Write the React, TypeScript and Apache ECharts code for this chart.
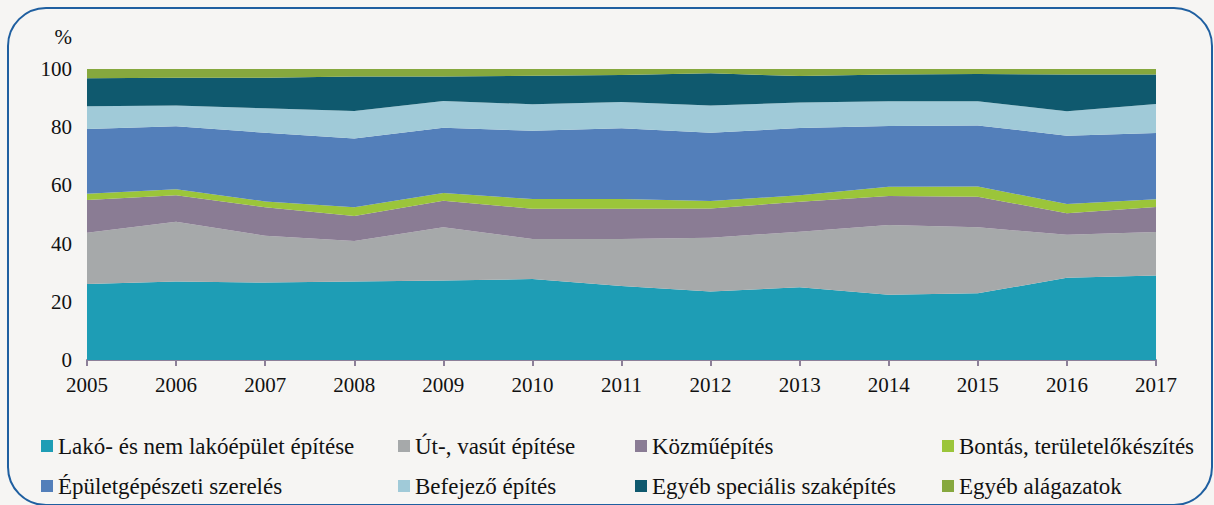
import React, { useEffect, useRef } from "react";
import * as echarts from "echarts";

const years = ["2005","2006","2007","2008","2009","2010","2011","2012","2013","2014","2015","2016","2017"];
const seriesNames = [
  "Lakó- és nem lakóépület építése",
  "Út-, vasút építése",
  "Közműépítés",
  "Bontás, területelőkészítés",
  "Épületgépészeti szerelés",
  "Befejező építés",
  "Egyéb speciális szaképítés",
  "Egyéb alágazatok",
];
const lako = [26.1, 27.0, 26.6, 27.0, 27.3, 27.8, 25.4, 23.5, 25.0, 22.4, 22.9, 28.3, 29.0];
const ut = [17.6, 20.5, 16.1, 13.9, 18.3, 13.8, 16.2, 18.5, 19.1, 24.0, 22.7, 14.7, 15.0];
const kozmu = [11.3, 9.1, 9.8, 8.6, 9.1, 10.4, 10.4, 10.1, 10.3, 10.0, 10.5, 7.4, 8.6];
const bontas = [2.1, 2.1, 2.0, 3.0, 2.7, 3.3, 3.3, 2.5, 2.2, 3.1, 3.5, 3.2, 2.6];
const epuletgep = [22.3, 21.6, 23.6, 23.6, 22.4, 23.5, 24.3, 23.5, 23.1, 20.9, 21.0, 23.5, 22.8];
const befejezo = [7.8, 7.2, 8.4, 9.5, 9.2, 9.1, 9.1, 9.4, 8.8, 8.5, 8.3, 8.4, 10.0];
const egyebSpec = [9.6, 9.5, 10.5, 11.8, 8.4, 9.8, 9.2, 11.0, 9.1, 9.2, 9.4, 12.6, 10.1];
const egyebAlag = [3.2, 3.0, 3.0, 2.6, 2.6, 2.3, 2.1, 1.5, 2.4, 1.9, 1.7, 1.9, 1.9];
const yTicks = [0, 20, 40, 60, 80, 100];

const allData = [lako, ut, kozmu, bontas, epuletgep, befejezo, egyebSpec, egyebAlag];
const colors = ["#1E9DB5", "#A6A9AA", "#8A7C94", "#9BC53A", "#537FBA", "#A0CAD8", "#0F596E", "#86A83E"];

const FONT = "'Liberation Serif', 'DejaVu Serif', serif";

export default function App() {
  const ref = useRef<HTMLDivElement>(null);
  useEffect(() => {
    if (!ref.current) return;
    const chart = echarts.init(ref.current, undefined, { renderer: "svg" });
    const legendLefts = [41, 398, 635, 942];
    const legendTops = [434, 474];
    chart.setOption({
      animation: false,
      backgroundColor: "#F6F5F3",
      grid: { left: 87, right: 58, top: 69, bottom: 145 },
      xAxis: {
        type: "category",
        data: years,
        boundaryGap: false,
        axisLine: { show: true, lineStyle: { color: "#8D8099", width: 2 } },
        axisTick: { show: true, length: 6, lineStyle: { color: "#8D8099", width: 2 }, alignWithLabel: true },
        axisLabel: { color: "#111", fontFamily: FONT, fontSize: 21, margin: 14 },
        splitLine: { show: false },
      },
      yAxis: {
        type: "value",
        min: yTicks[0],
        max: yTicks[yTicks.length - 1],
        interval: 20,
        name: "%",
        nameLocation: "end",
        nameGap: 22,
        nameTextStyle: { color: "#111", fontFamily: FONT, fontSize: 21, align: "right", padding: [0, 15, 0, 0] },
        axisLine: { show: false },
        axisTick: { show: false },
        splitLine: { show: false },
        axisLabel: { color: "#111", fontFamily: FONT, fontSize: 21, margin: 15 },
      },
      legend: seriesNames.map((name, i) => ({
        orient: "horizontal",
        left: legendLefts[i % 4],
        top: legendTops[Math.floor(i / 4)],
        padding: 0,
        itemWidth: 12,
        itemHeight: 12,
        icon: "rect",
        selectedMode: false,
        textStyle: { color: "#111", fontFamily: FONT, fontSize: 23, lineHeight: 24 },
        data: [name],
      })),
      graphic: [
        {
          type: "rect",
          shape: { x: 8, y: 8, width: 1204, height: 497, r: 38 },
          style: { fill: "none", stroke: "#1F5FA0", lineWidth: 2 },
          silent: true,
          z: 100,
        },
      ],
      series: allData.map((d, i) => ({
        name: seriesNames[i],
        type: "line",
        stack: "total",
        data: d,
        symbol: "none",
        lineStyle: { width: 0 },
        areaStyle: { color: colors[i], opacity: 1 },
        itemStyle: { color: colors[i] },
      })),
    });
    return () => chart.dispose();
  }, []);
  return (
    <div style={{ position: "absolute", left: 0, top: 0, width: 1214, height: 505, background: "#F6F5F3" }}>
      <div ref={ref} style={{ width: 1214, height: 505 }} />
    </div>
  );
}
